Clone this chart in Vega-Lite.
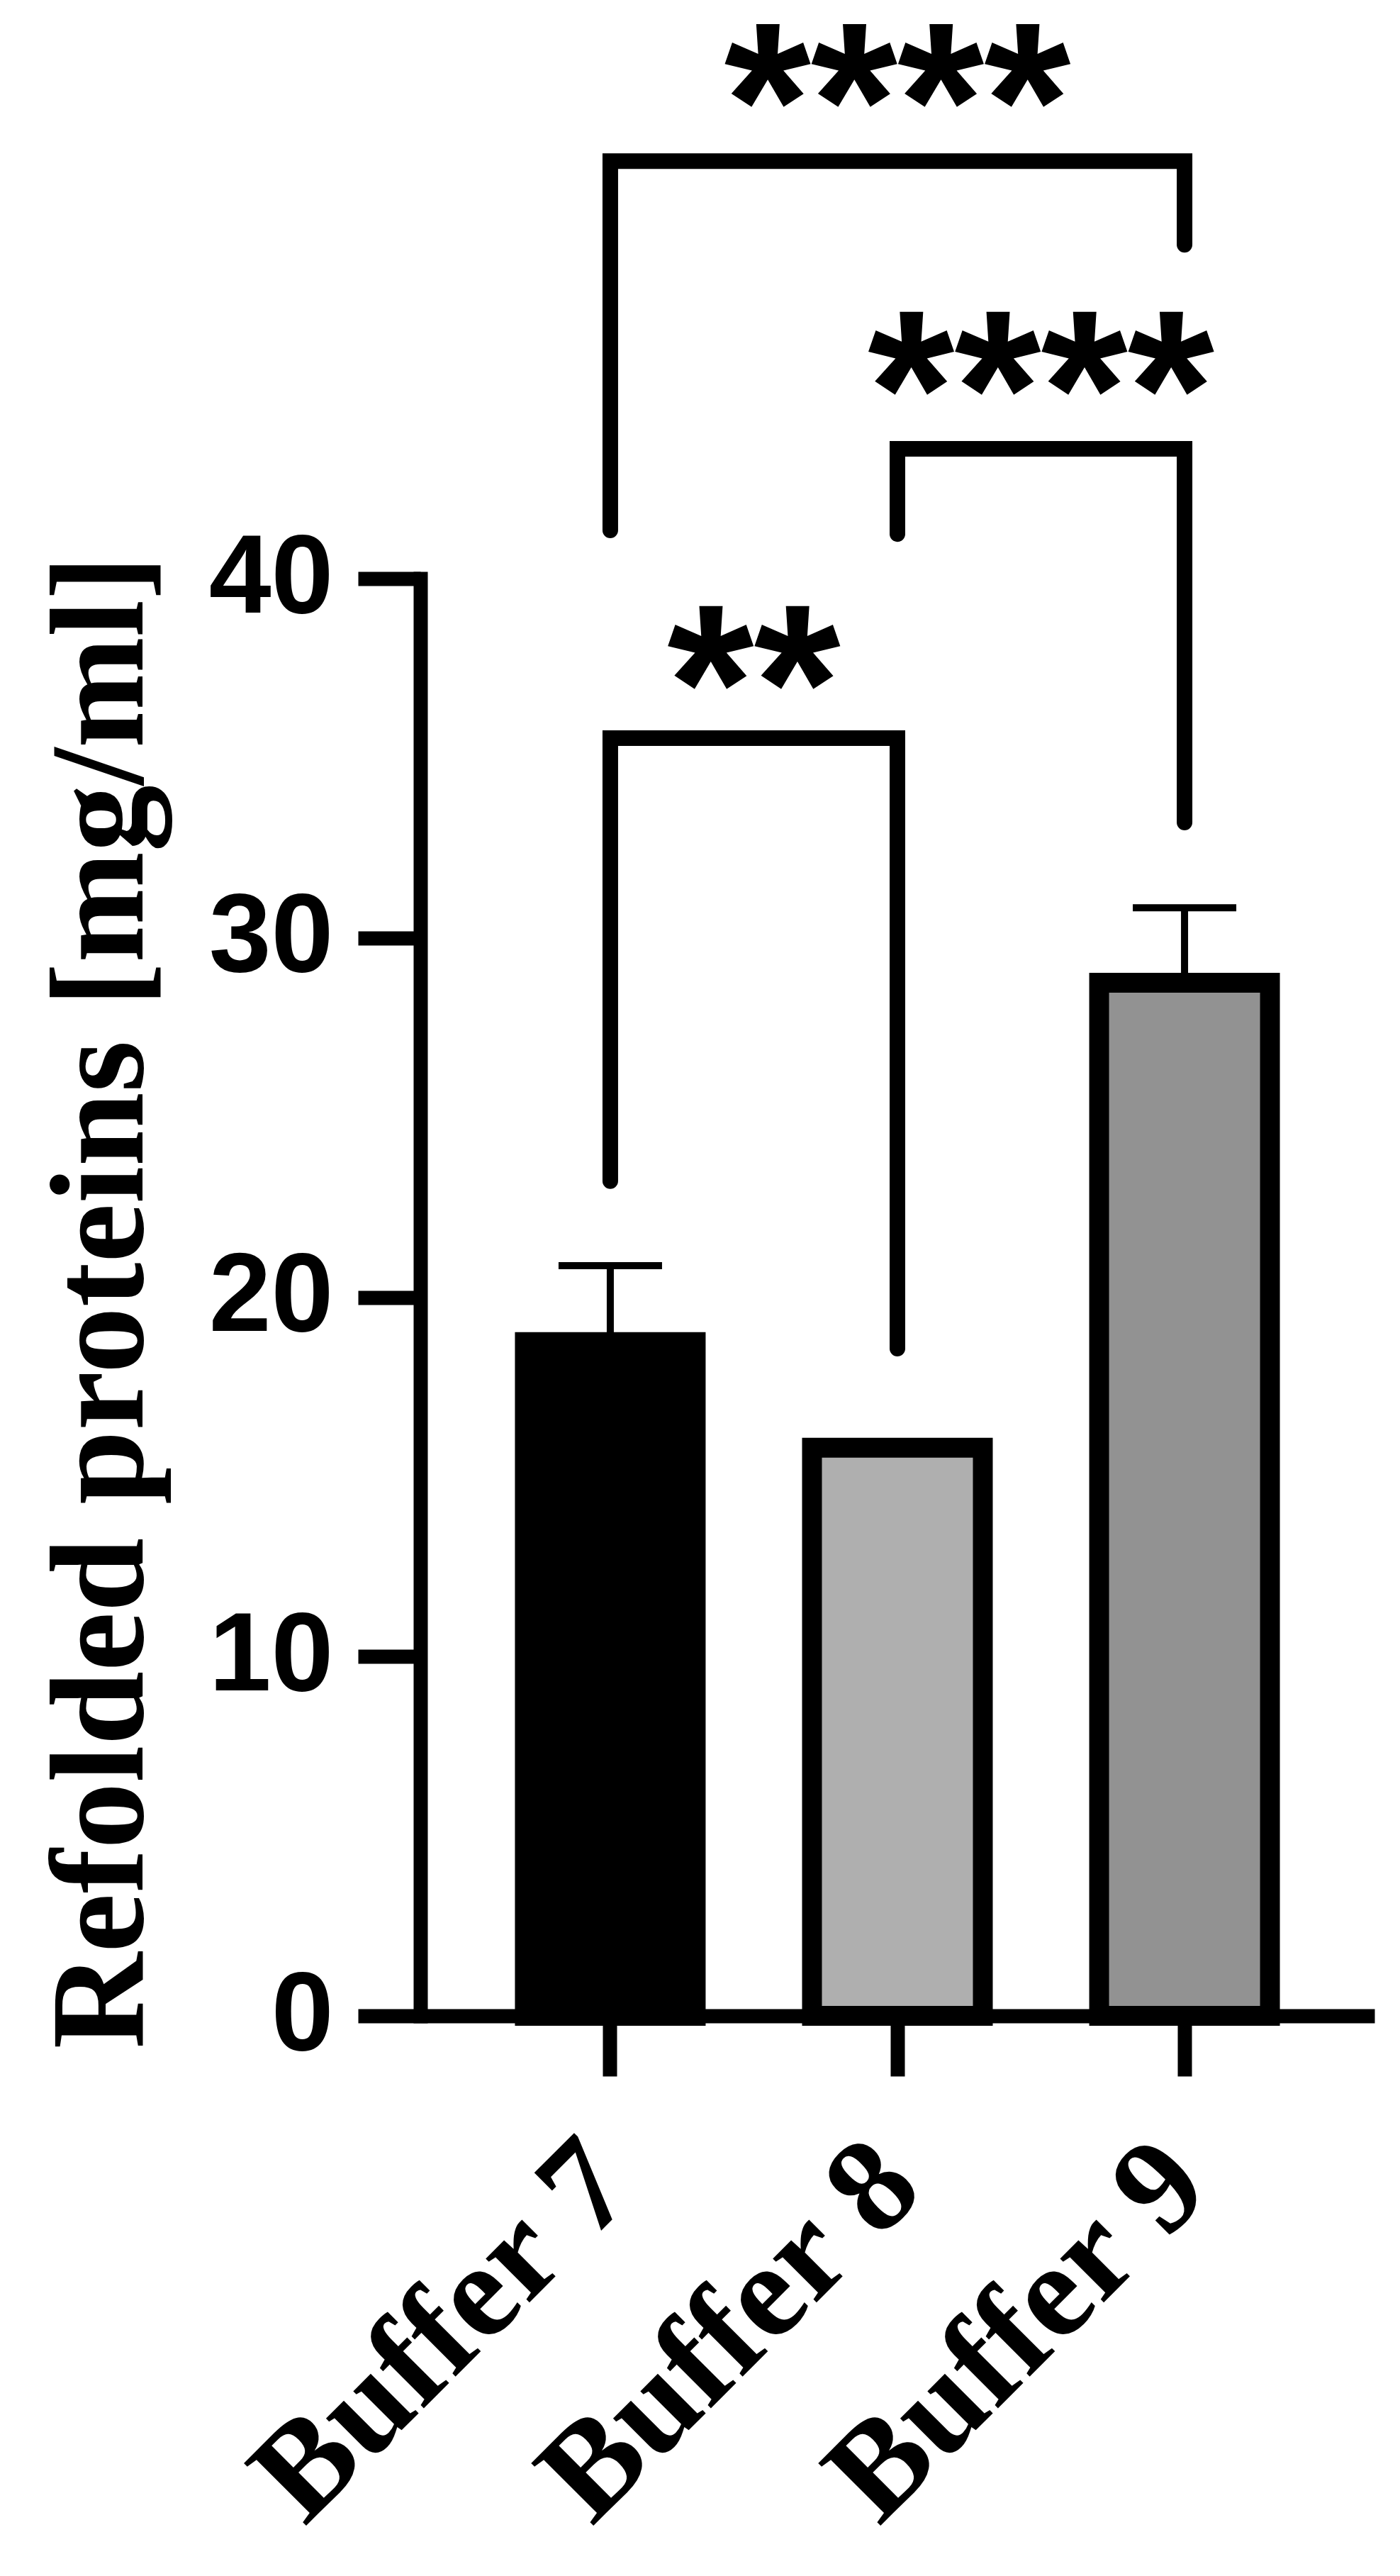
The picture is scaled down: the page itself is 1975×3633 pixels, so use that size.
{
  "$schema": "https://vega.github.io/schema/vega-lite/v6.json",
  "autosize": "none",
  "padding": {"left": 593, "top": 816, "right": 36, "bottom": 790},
  "width": 1346,
  "height": 2027,
  "background": "white",
  "config": {"view": {"stroke": null}},
  "datasets": {
    "bars": [
      {"buffer": "Buffer 7", "mean": 18.75},
      {"buffer": "Buffer 8", "mean": 15.81},
      {"buffer": "Buffer 9", "mean": 28.75}
    ],
    "errs": [
      {"buffer": "Buffer 7", "mean": 18.75, "upper": 20.88},
      {"buffer": "Buffer 9", "mean": 28.75, "upper": 30.84}
    ],
    "brackets": [
      {"pair": "7-9", "seq": 1, "buffer": "Buffer 7", "y": 41.34},
      {"pair": "7-9", "seq": 2, "buffer": "Buffer 7", "y": 51.62},
      {"pair": "7-9", "seq": 3, "buffer": "Buffer 9", "y": 51.62},
      {"pair": "7-9", "seq": 4, "buffer": "Buffer 9", "y": 49.29},
      {"pair": "8-9", "seq": 1, "buffer": "Buffer 8", "y": 41.24},
      {"pair": "8-9", "seq": 2, "buffer": "Buffer 8", "y": 43.61},
      {"pair": "8-9", "seq": 3, "buffer": "Buffer 9", "y": 43.61},
      {"pair": "8-9", "seq": 4, "buffer": "Buffer 9", "y": 33.21},
      {"pair": "7-8", "seq": 1, "buffer": "Buffer 7", "y": 23.23},
      {"pair": "7-8", "seq": 2, "buffer": "Buffer 7", "y": 35.56},
      {"pair": "7-8", "seq": 3, "buffer": "Buffer 8", "y": 35.56},
      {"pair": "7-8", "seq": 4, "buffer": "Buffer 8", "y": 18.57}
    ],
    "stars": [
      {"from": "Buffer 7", "to": "Buffer 9", "y": 51.17, "label": "****"},
      {"from": "Buffer 8", "to": "Buffer 9", "y": 43.16, "label": "****"},
      {"from": "Buffer 7", "to": "Buffer 8", "y": 34.97, "label": "**"}
    ]
  },
  "layer": [
    {
      "data": {"name": "bars"},
      "mark": {"type": "bar", "stroke": "black", "strokeWidth": 28, "strokeJoin": "miter"},
      "encoding": {
        "x": {
          "field": "buffer", "type": "nominal", "sort": null,
          "scale": {"domain": ["Buffer 7", "Buffer 8", "Buffer 9"], "paddingInner": 0.405, "paddingOuter": 0.364, "align": 0.5},
          "axis": {
            "title": null,
            "domainColor": "black", "domainWidth": 20, "domainCap": "butt",
            "tickColor": "black", "tickWidth": 20, "tickSize": 85, "tickCap": "butt",
            "labelFont": "Liberation Serif", "labelFontWeight": "bold", "labelFontSize": 190, "labelColor": "black",
            "labelAngle": -45, "labelAlign": "right", "labelBaseline": "middle", "labelPadding": 124, "labelDx": -12,
            "labelOverlap": false, "labelLimit": 0, "zindex": 1
          }
        },
        "y": {
          "field": "mean", "type": "quantitative",
          "scale": {"domain": [0, 40], "nice": false, "zero": true},
          "axis": {
            "title": "Refolded proteins [mg/ml]",
            "values": [0, 10, 20, 30, 40], "grid": false,
            "domainColor": "black", "domainWidth": 20, "domainCap": "square",
            "tickColor": "black", "tickWidth": 20, "tickSize": 88, "tickCap": "butt",
            "labelFont": "Liberation Sans", "labelFontWeight": "bold", "labelFontSize": 158, "labelColor": "black",
            "labelPadding": 35, "labelFlush": false, "labelOverlap": false,
            "titleFont": "Liberation Serif", "titleFontWeight": "bold", "titleFontSize": 188, "titleColor": "black",
            "titleAngle": 270, "titleX": -393, "titleY": 1020, "titleAlign": "center", "titleBaseline": "alphabetic",
            "titleLimit": 0, "zindex": 1
          }
        },
        "color": {
          "field": "buffer", "type": "nominal",
          "scale": {"domain": ["Buffer 7", "Buffer 8", "Buffer 9"], "range": ["#000000", "#afafaf", "#929292"]},
          "legend": null
        }
      }
    },
    {
      "data": {"name": "errs"},
      "mark": {"type": "rule", "color": "black", "strokeWidth": 10},
      "encoding": {
        "x": {"field": "buffer", "type": "nominal"},
        "y": {"field": "mean", "type": "quantitative"},
        "y2": {"field": "upper"}
      }
    },
    {
      "data": {"name": "errs"},
      "mark": {"type": "tick", "color": "black", "thickness": 10, "size": 146, "orient": "horizontal", "opacity": 1},
      "encoding": {
        "x": {"field": "buffer", "type": "nominal"},
        "y": {"field": "upper", "type": "quantitative"}
      }
    },
    {
      "data": {"name": "brackets"},
      "mark": {"type": "line", "color": "black", "strokeWidth": 22, "strokeCap": "round", "strokeJoin": "miter"},
      "encoding": {
        "x": {"field": "buffer", "type": "nominal"},
        "y": {"field": "y", "type": "quantitative"},
        "detail": {"field": "pair"},
        "order": {"field": "seq", "type": "quantitative"}
      }
    },
    {
      "data": {"name": "stars"},
      "transform": [{"filter": "datum.from === 'Buffer 7' && datum.to === 'Buffer 9'"}],
      "mark": {"type": "text", "font": "Liberation Sans", "fontWeight": "bold", "fontSize": 314, "align": "center", "baseline": "alphabetic", "color": "black"},
      "encoding": {
        "x": {"field": "from", "type": "nominal", "bandPosition": 2.1807},
        "y": {"field": "y", "type": "quantitative"},
        "text": {"field": "label"}
      }
    },
    {
      "data": {"name": "stars"},
      "transform": [{"filter": "!(datum.from === 'Buffer 7' && datum.to === 'Buffer 9')"}],
      "mark": {"type": "text", "font": "Liberation Sans", "fontWeight": "bold", "fontSize": 314, "align": "center", "baseline": "alphabetic", "color": "black"},
      "encoding": {
        "x": {"field": "from", "type": "nominal", "bandPosition": 1.3403},
        "y": {"field": "y", "type": "quantitative"},
        "text": {"field": "label"}
      }
    }
  ]
}
